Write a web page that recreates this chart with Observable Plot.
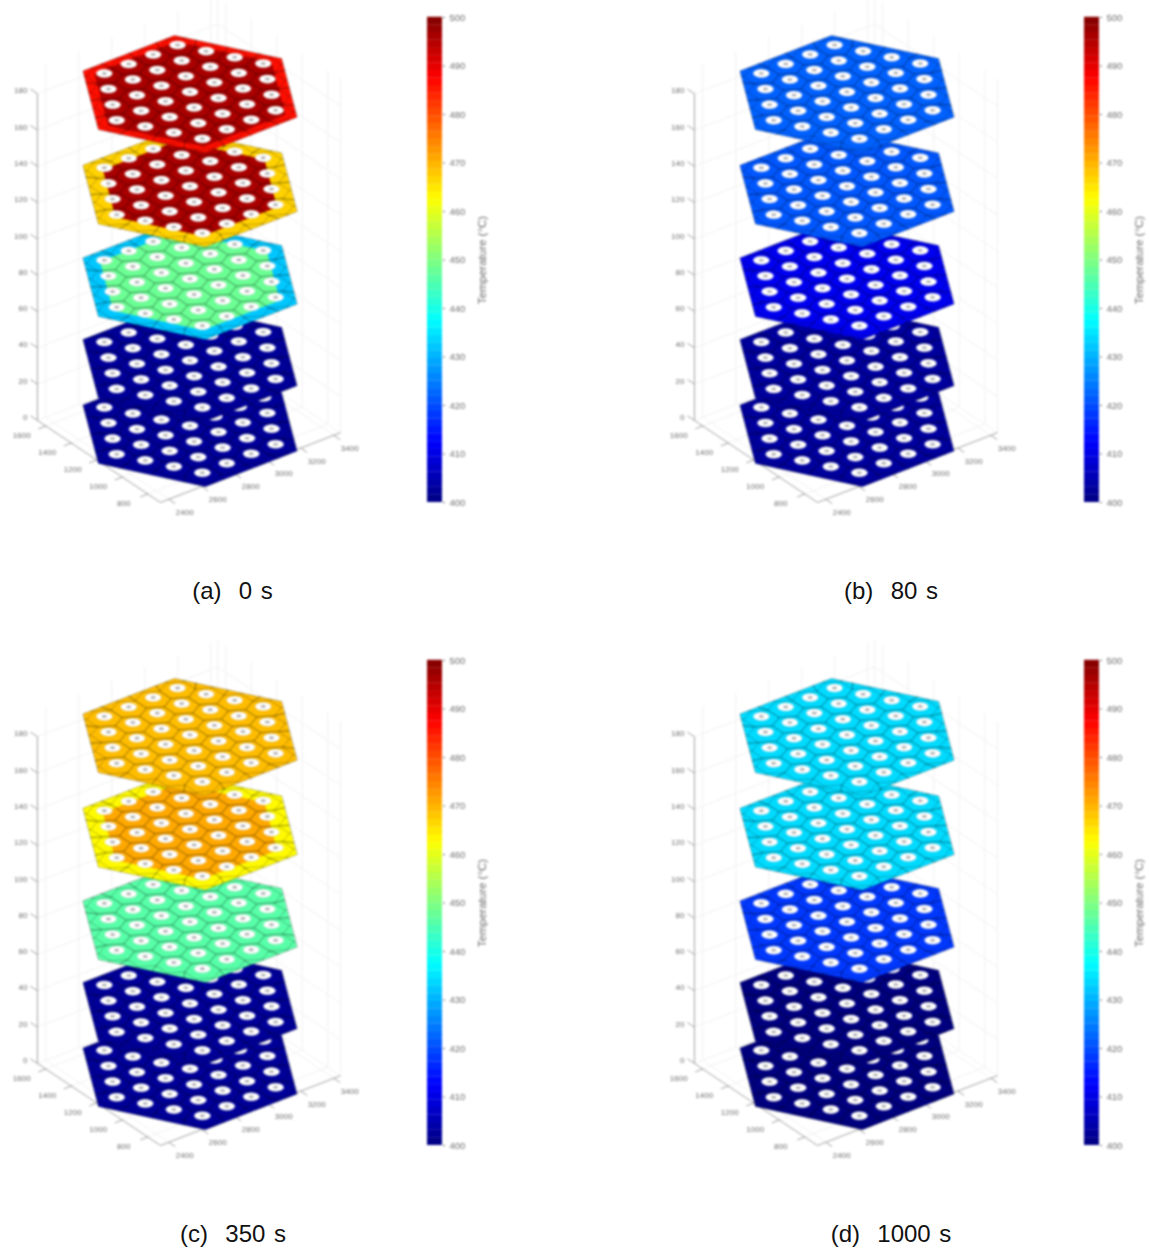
<!DOCTYPE html>
<html>
<head>
<meta charset="utf-8">
<script src="https://cdn.jsdelivr.net/npm/d3@7"></script>
<script src="https://cdn.jsdelivr.net/npm/@observablehq/plot@0.6"></script>
<style>
html,body{margin:0;padding:0;background:#fff;}
#page{position:relative;width:1149px;height:1249px;overflow:hidden;font-family:"Liberation Sans",Arial,sans-serif;}
#page svg{position:absolute;filter:blur(0.8px);overflow:visible;}
.cap{position:absolute;font-size:24px;word-spacing:2px;color:#111;white-space:pre;transform:translateX(-50%);line-height:28px;}
</style>
</head>
<body>
<div id="page"></div>
<script>
// ---- values ----
const captions = ["(a)  0 s", "(b)  80 s", "(c)  350 s", "(d)  1000 s"];
const layerHeights = [0, 36, 81, 132, 184];          // plate elevation, bottom to top
const rimTemps = [
  [402.5, 402.5, 432, 467, 486],
  [403, 403, 411, 421, 422],
  [402.5, 402.5, 446, 463, 469],
  [400, 400, 418, 434, 434]
];
const coreTemps = [
  [402.5, 402.5, 448, 496, 496],
  [403, 403, 411, 421, 422],
  [402.5, 402.5, 446, 471, 469],
  [400, 400, 418, 434, 434]
];
const coreRadii = [3.2, 3.2, 3.15, 3.05, 3.35];      // extent of the hot core per plate, in pitches
const zTicks = [0, 20, 40, 60, 80, 100, 120, 140, 160, 180];
const xTicks = [800, 1000, 1200, 1400, 1600];
const yTicks = [2400, 2600, 2800, 3000, 3200, 3400];
const barTicks = [400, 410, 420, 430, 440, 450, 460, 470, 480, 490, 500];
const jetStops = [400, 412.5, 437.5, 462.5, 487.5, 500];
const jetColors = ["#000080", "#0000ff", "#00ffff", "#ffff00", "#ff0000", "#800000"];

// plate geometry in world units (mm)
const centerX = 1169, centerY = 2891, pitch = 148, plateRadius = 3.75, holeRings = 3;
const holeR = 0.26, pinR = 0.08, holeLift = 1.2;
const xLim = [700, 1665], yLim = [2350, 3441];

// ---- 3-D view: linear oblique view of the axes ----
const view = {ox: 160, oy: 502, xx: -0.1275, xy: -0.085, yx: 0.165, yy: -0.064, zy: -1.815};
const px = (x, y, z) => view.ox + (x - xLim[0]) * view.xx + (y - yLim[0]) * view.yx;
const py = (x, y, z) => view.oy + (x - xLim[0]) * view.xy + (y - yLim[0]) * view.yy + z * view.zy;

const pVec = [-pitch * Math.cos(Math.PI / 6), pitch * 0.5];
const qVec = [0, -pitch];
const world = (a, b) => [centerX + a * pVec[0] + b * qVec[0], centerY + a * pVec[1] + b * qVec[1]];

const plateDirs = [[1, 0], [1, 1], [0, 1], [-1, 0], [-1, -1], [0, -1]];
const cellDirs = [[2/3, 1/3], [1/3, 2/3], [-1/3, 1/3], [-2/3, -1/3], [-1/3, -2/3], [1/3, -1/3]];
const latticeNorm = (a, b) => Math.max(Math.abs(a), Math.abs(b), Math.abs(a - b));

const lattice = [];
for (let a = -holeRings; a <= holeRings; a++)
  for (let b = -holeRings; b <= holeRings; b++)
    if (latticeNorm(a, b) <= holeRings) lattice.push([a, b]);

function hexRows(r, z, t, id) {
  return plateDirs.map(([a, b]) => {
    const [x, y] = world(a * r, b * r);
    return {x: px(x, y, z), y: py(x, y, z), t, id};
  });
}
function cellRows(z) {
  return lattice.flatMap(([a, b], i) => cellDirs.map(([da, db]) => {
    const [x, y] = world(a + da, b + db);
    return {x: px(x, y, z), y: py(x, y, z), id: i};
  }));
}
function rayRows(z) {
  const rows = []; let id = 0;
  for (const [a, b] of lattice) for (const [da, db] of cellDirs) {
    const n = latticeNorm(a + da, b + db);
    if (n > 3.3) {
      const k = plateRadius / n;
      const [x0, y0] = world(a + da, b + db), [x1, y1] = world((a + da) * k, (b + db) * k);
      rows.push({x: px(x0, y0, z), y: py(x0, y0, z), id}, {x: px(x1, y1, z), y: py(x1, y1, z), id});
      id++;
    }
  }
  return rows;
}
const angles = d3.range(0, 24).map(i => i / 24 * 2 * Math.PI);
function holeRows(z, radius) {
  const r = radius * pitch;
  return lattice.flatMap(([a, b], i) => {
    const [cx, cy] = world(a, b);
    return angles.map(t => {
      const x = cx + r * Math.cos(t), y = cy + r * Math.sin(t);
      return {x: px(x, y, z), y: py(x, y, z), id: i};
    });
  });
}

const colorScale = {type: "linear", domain: jetStops, range: jetColors};
const grey = "#6e6e6e", gridGrey = "#f1f1f1", axisGrey = "#a0a0a0";
const font = "Liberation Sans, Arial, sans-serif";

function grid() {
  const [x0, x1] = xLim, [y0, y1] = yLim, top = 195;
  const seg = (a, b, c, d, e, f) => ({x1: px(a, b, c), y1: py(a, b, c), x2: px(d, e, f), y2: py(d, e, f)});
  const rows = [
    ...zTicks.flatMap(z => [seg(x1, y0, z, x1, y1, z), seg(x1, y1, z, x0, y1, z)]),
    ...xTicks.flatMap(x => [seg(x, y0, 0, x, y1, 0), seg(x, y1, 0, x, y1, top)]),
    ...yTicks.flatMap(y => [seg(x0, y, 0, x1, y, 0), seg(x1, y, 0, x1, y, top)]),
    seg(x1, y1, 0, x1, y1, top), seg(x0, y1, 0, x0, y1, top)
  ];
  return Plot.link(rows, {x1: "x1", y1: "y1", x2: "x2", y2: "y2", stroke: gridGrey, strokeWidth: 1});
}
function axes() {
  const [x0, x1] = xLim, [y0, y1] = yLim;
  const seg = (a, b, c, d, e, f) => ({x1: px(a, b, c), y1: py(a, b, c), x2: px(d, e, f), y2: py(d, e, f)});
  const rows = [
    seg(x1, y0, 0, x0, y0, 0), seg(x0, y0, 0, x0, y1, 0), seg(x1, y0, 0, x1, y0, 180),
    ...zTicks.map(z => seg(x1, y0, z, x1 + 55, y0, z)),
    ...xTicks.map(x => seg(x, y0, 0, x, y0 - 45, 0)),
    ...yTicks.map(y => seg(x0, y, 0, x0 - 50, y, 0))
  ];
  const txt = {fill: grey, fontSize: 8, fontFamily: font};
  return [
    Plot.link(rows, {x1: "x1", y1: "y1", x2: "x2", y2: "y2", stroke: axisGrey, strokeWidth: 1}),
    Plot.text(zTicks, {x: z => px(x1, y0, z), y: z => py(x1, y0, z), text: String, textAnchor: "end", dx: -10, dy: -3, ...txt}),
    Plot.text(xTicks, {x: v => px(v, y0, 0), y: v => py(v, y0, 0), text: String, dx: -24, dy: 9, ...txt}),
    Plot.text(yTicks, {x: v => px(x0, v, 0), y: v => py(x0, v, 0), text: String, dx: 16, dy: 13, ...txt})
  ];
}
function plateMarks(z, rim, core, i) {
  const line = {x: "x", y: "y", z: "id", curve: "linear-closed"};
  return [
    Plot.line(hexRows(plateRadius, z, rim, "rim" + i), {...line, fill: "t", stroke: "#000", strokeOpacity: 0.3, strokeWidth: 0.8}),
    Plot.line(hexRows(coreRadii[i], z, core, "core" + i), {...line, fill: "t", stroke: "none"}),
    Plot.line(cellRows(z), {...line, fill: "none", stroke: "#000", strokeOpacity: 0.34, strokeWidth: 0.7}),
    Plot.line(rayRows(z), {x: "x", y: "y", z: "id", stroke: "#000", strokeOpacity: 0.34, strokeWidth: 0.7}),
    Plot.line(holeRows(z + holeLift, holeR), {...line, fill: "#ffffff", stroke: "#c8c8c8", strokeWidth: 0.4}),
    Plot.line(holeRows(z + holeLift, pinR), {...line, fill: "#a8a8a8", stroke: "none"})
  ];
}
function stack(p) {
  const W = 410, H = 530;
  return Plot.plot({
    width: W, height: H, margin: 0,
    x: {domain: [0, W], range: [0, W], axis: null},
    y: {domain: [0, H], range: [0, H], axis: null},
    color: colorScale,
    marks: [
      grid(),
      ...axes(),
      ...layerHeights.flatMap((z, i) => plateMarks(z, rimTemps[p][i], coreTemps[p][i], i))
    ]
  });
}
function colorbar() {
  const steps = d3.range(64).map(i => jetStops[0] + i * 100 / 64);
  return Plot.plot({
    width: 83, height: 520,
    marginLeft: 17, marginRight: 51, marginTop: 17, marginBottom: 18,
    x: {axis: null},
    y: {domain: [400, 500], axis: null},
    color: colorScale,
    marks: [
      Plot.barY(steps, {y1: d => d, y2: d => d + 100 / 64 + 0.05, fill: d => d + 50 / 64, inset: 0}),
      Plot.axisY({anchor: "right", ticks: barTicks, tickSize: 2, tickPadding: 5, label: null, fontSize: 9.5, stroke: grey, color: grey, fontFamily: font}),
      Plot.text(["Temperature (°C)"], {frameAnchor: "right", textAnchor: "middle", rotate: -90, dx: 40, fontSize: 11.5, fill: grey, fontFamily: font})
    ]
  });
}

// ---- layout ----
const page = document.getElementById("page");
const offsets = [[0, 0], [657, 0], [0, 643], [657, 643]];
const capCenters = [[232.5, 577], [891, 577], [233, 1220], [891, 1220]];
offsets.forEach(([dx, dy], p) => {
  const a = stack(p); a.style.left = dx + "px"; a.style.top = dy + "px"; page.appendChild(a);
  const b = colorbar(); b.style.left = (410 + dx) + "px"; b.style.top = dy + "px"; page.appendChild(b);
  const c = document.createElement("div");
  c.className = "cap"; c.textContent = captions[p];
  c.style.left = capCenters[p][0] + "px"; c.style.top = capCenters[p][1] + "px";
  page.appendChild(c);
});
</script>
</body>
</html>
